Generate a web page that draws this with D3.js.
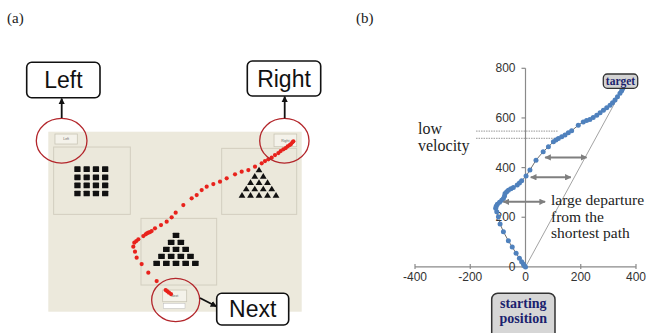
<!DOCTYPE html>
<html><head><meta charset="utf-8">
<script src="https://cdn.jsdelivr.net/npm/d3@7/dist/d3.min.js"></script>
<style>body{margin:0;background:#fff;}svg{display:block;}</style>
</head><body>
<svg id="c" width="649" height="333"></svg>
<script>
// ===== Panel (b): mouse trajectory (data units) =====
const trajX = [0,-4,-8,-14,-22,-34,-48,-62,-80,-92,-98,-104,-108,-106,-102,-94,-86,-80,-76,-74,-68,-62,-53,-44,-30,-22,-14,2,16,38,64,83,101,110,119,131,143,155,167,191,209,221,233,245,258,270,282,294,306,315,324,333,342,348,352];
const trajY = [0,5,12,21,35,55,80,105,142,173,202,222,236,244,252,260,268,276,286,296,303,309,315,320,330,338,347,366,390,430,464,484,504,511,517,524,531,540,548,571,584,590,594,602,611,621,631,641,651,661,672,685,699,710,719];
const xTicks = [-400,-200,0,200,400];
const yTicks = [0,200,400,600,800];
const startPt = [0,0];
const targetPt = [352,719];
const lowVelY = [547,518];
const lowVelX = [-179,119];
const arrowY  = [441,361,262];
const arrowX0 = [71,19,-80];
const arrowX1 = [221,164,71];

// ===== Panel (a): screenshot (screen units) =====
const traceX = [368,362,357,352,325,300,280,265,260,255,258,264,270,285,292,296,300,305,310,320,338,355,370,382,405,430,445,460,475,495,515,535,560,580,600,620,640,650,660,670,680,690,697,705,712,718,724,728,732,735];
const traceY = [487,483,479,475,448,423,397,378,360,345,333,328,323,313,308,305,303,301,298,290,280,270,257,243,220,200,190,175,165,157,150,140,128,120,115,105,95,88,83,78,70,64,58,53,49,44,40,37,32,29];
const gridRows = [0,1,2,3], gridCols = [0,1,2,3];
const pyramidRows = [1,2,3,4,5];
const calloutLabels = ["Left","Right","Next"];

const svg = d3.select("#c");
const defs = svg.append("defs");
function marker(id, color){
  defs.append("marker").attr("id",id).attr("viewBox","0 0 10 10")
    .attr("refX",9).attr("refY",5).attr("markerWidth",id==="ga"?3.2:3.6).attr("markerHeight",id==="ga"?3.2:3.6)
    .attr("orient","auto-start-reverse")
    .append("path").attr("d","M0,0L10,5L0,10z").attr("fill",color);
}
marker("ga","#7f7f7f");
marker("ba","#111");

// ---------- Panel (a) ----------
svg.append("text").attr("x",7).attr("y",23).attr("font-family","Liberation Serif")
  .attr("font-size",15).attr("fill","#222").text("(a)");
const sx = d3.scaleLinear().domain([0,760]).range([48.3,301.7]);
const sy = d3.scaleLinear().domain([0,540]).range([131.7,311.7]);
const gA = svg.append("g");
gA.append("rect").attr("x",sx(0)).attr("y",sy(0)).attr("width",sx(760)-sx(0)).attr("height",sy(540)-sy(0))
  .attr("fill","#ece9dc");
// inner panels
const panels = [[16,46,246,248],[520,50,745,248],[278,260,505,460]];
panels.forEach(p=>{
  gA.append("rect").attr("x",sx(p[0])).attr("y",sy(p[1])).attr("width",sx(p[2])-sx(p[0])).attr("height",sy(p[3])-sy(p[1]))
    .attr("fill","#ebe8db").attr("stroke","#d2cebf").attr("stroke-width",1);
});
// buttons
const buttons = [[20,7,87,37,"Left"],[677,7,745,45,"Right"],[343,475,415,510,"Next"]];
buttons.forEach(b=>{
  gA.append("rect").attr("x",sx(b[0])).attr("y",sy(b[1])).attr("width",sx(b[2])-sx(b[0])).attr("height",sy(b[3])-sy(b[1]))
    .attr("fill","#f4f2ea").attr("stroke","#c9c5b6").attr("stroke-width",0.8);
  gA.append("text").attr("x",(sx(b[0])+sx(b[2]))/2).attr("y",(sy(b[1])+sy(b[3]))/2+1.2)
    .attr("text-anchor","middle").attr("font-family","Liberation Sans").attr("font-size",3.5).attr("fill","#666").text(b[4]);
});
gA.append("rect").attr("x",sx(345)).attr("y",sy(515)).attr("width",sx(410)-sx(345)).attr("height",sy(530)-sy(515))
  .attr("fill","#fff").attr("stroke","#bbb").attr("stroke-width",0.5);
// grid of squares
const gx = d3.scaleBand().domain(gridCols).range([sx(78),sx(180)]).paddingInner(0.32);
const gy = d3.scaleBand().domain(gridRows).range([sy(104),sy(194)]).paddingInner(0.3);
gridRows.forEach(r=>gridCols.forEach(c=>{
  gA.append("rect").attr("x",gx(c)).attr("y",gy(r)).attr("width",gx.bandwidth()).attr("height",gy.bandwidth())
    .attr("fill","#111").attr("rx",0.6);
}));
// pyramid of squares
const pyRow = d3.scaleLinear().domain([1,5]).range([sy(303),sy(387)]);
pyramidRows.forEach(n=>{
  for(let i=0;i<n;i++){
    const cx = sx(383 + (i-(n-1)/2)*29);
    gA.append("rect").attr("x",cx-3.3).attr("y",pyRow(n)).attr("width",6.6).attr("height",5.4).attr("fill","#111").attr("rx",0.5);
  }
});
// pyramid of triangles
const trRow = d3.scaleLinear().domain([1,5]).range([sy(114),sy(190)]);
pyramidRows.forEach(n=>{
  for(let i=0;i<n;i++){
    const cx = sx(632 + (i-(n-1)/2)*25.5);
    const cy = trRow(n);
    gA.append("path").attr("d",`M${cx},${cy-3}L${cx+3.4},${cy+2.6}L${cx-3.4},${cy+2.6}Z`).attr("fill","#111");
  }
});
// red trace
gA.selectAll("circle.tr").data(traceX.map((x,i)=>[x,traceY[i]])).enter().append("circle")
  .attr("cx",d=>sx(d[0])).attr("cy",d=>sy(d[1])).attr("r",2.1).attr("fill","#e8221c");
// red circles
const rings = [[40,27,76,67],[708,27,74,67],[382,505,72,65]];
rings.forEach(r=>{
  gA.append("ellipse").attr("cx",sx(r[0])).attr("cy",sy(r[1])).attr("rx",r[2]/3).attr("ry",r[3]/3)
    .attr("fill","none").attr("stroke","#b3262b").attr("stroke-width",1.3);
});
// callouts
const callBoxes = [[26.7,62.3,73.3,35.4],[247.3,61,73.4,35],[216.7,293.3,72,31.7]];
callBoxes.forEach((b,i)=>{
  gA.append("rect").attr("x",b[0]).attr("y",b[1]).attr("width",b[2]).attr("height",b[3]).attr("rx",5)
    .attr("fill","#fff").attr("stroke","#111").attr("stroke-width",1.6);
  gA.append("text").attr("x",b[0]+b[2]/2).attr("y",b[1]+b[3]/2+8).attr("text-anchor","middle")
    .attr("font-family","Liberation Sans").attr("font-size",23).attr("fill","#111").text(calloutLabels[i]);
});
const callArrows = [[61.7,118,61.7,98.5],[284.7,118.3,284.7,96.5],[200,298,216.5,306.5]];
callArrows.forEach(a=>{
  gA.append("line").attr("x1",a[0]).attr("y1",a[1]).attr("x2",a[2]).attr("y2",a[3])
    .attr("stroke","#111").attr("stroke-width",1.8).attr("marker-end","url(#ba)");
});

// ---------- Panel (b) ----------
svg.append("text").attr("x",356).attr("y",23).attr("font-family","Liberation Serif")
  .attr("font-size",15).attr("fill","#222").text("(b)");
const x = d3.scaleLinear().domain([-400,400]).range([415,636]);
const y = d3.scaleLinear().domain([0,800]).range([266.9,68.3]);
const gB = svg.append("g");
const axisCol = "#8a8a8a";
gB.append("line").attr("x1",x(-400)).attr("x2",x(400)).attr("y1",y(0)).attr("y2",y(0)).attr("stroke",axisCol).attr("stroke-width",1.2);
gB.append("line").attr("x1",x(0)).attr("x2",x(0)).attr("y1",y(0)).attr("y2",y(800)).attr("stroke",axisCol).attr("stroke-width",1.2);
xTicks.forEach(t=>{
  gB.append("line").attr("x1",x(t)).attr("x2",x(t)).attr("y1",y(0)-3).attr("y2",y(0)+2).attr("stroke",axisCol).attr("stroke-width",1.2);
  gB.append("text").attr("x",x(t)).attr("y",y(0)+14).attr("text-anchor","middle")
    .attr("font-family","Liberation Sans").attr("font-size",12).attr("fill","#333").text(t);
});
yTicks.forEach(t=>{
  gB.append("line").attr("x1",x(0)-4).attr("x2",x(0)).attr("y1",y(t)).attr("y2",y(t)).attr("stroke",axisCol).attr("stroke-width",1.2);
  gB.append("text").attr("x",x(0)-10).attr("y",y(t)+4).attr("text-anchor","end")
    .attr("font-family","Liberation Sans").attr("font-size",12).attr("fill","#333").text(t);
});
// shortest path
gB.append("line").attr("x1",x(startPt[0])).attr("y1",y(startPt[1])).attr("x2",x(targetPt[0])).attr("y2",y(targetPt[1]))
  .attr("stroke","#8c8c8c").attr("stroke-width",0.8);
// low velocity lines
lowVelY.forEach(v=>{
  gB.append("line").attr("x1",x(lowVelX[0])).attr("x2",x(lowVelX[1])).attr("y1",y(v)).attr("y2",y(v))
    .attr("stroke","#8a8a8a").attr("stroke-width",0.9).attr("stroke-dasharray","1.5,1");
});
// trajectory
const pts = trajX.map((v,i)=>[v,trajY[i]]);
gB.append("path").attr("d",d3.line().x(d=>x(d[0])).y(d=>y(d[1]))(pts))
  .attr("fill","none").attr("stroke","#4a4a4a").attr("stroke-width",0.8);
gB.selectAll("circle.tj").data(pts).enter().append("circle")
  .attr("cx",d=>x(d[0])).attr("cy",d=>y(d[1])).attr("r",2.5).attr("fill","#4f81bd");
// departure arrows
arrowY.forEach((v,i)=>{
  gB.append("line").attr("x1",x(arrowX0[i])).attr("x2",x(arrowX1[i])).attr("y1",y(v)).attr("y2",y(v))
    .attr("stroke","#7f7f7f").attr("stroke-width",2)
    .attr("marker-start","url(#ga)").attr("marker-end","url(#ga)");
});
// annotations
const serif = "Liberation Serif";
gB.append("text").attr("x",418).attr("y",134).attr("font-family",serif).attr("font-size",16).attr("fill","#222").text("low");
gB.append("text").attr("x",418).attr("y",151).attr("font-family",serif).attr("font-size",16).attr("fill","#222").text("velocity");
["large departure","from the","shortest path"].forEach((s,i)=>{
  gB.append("text").attr("x",551).attr("y",205+i*16.7).attr("font-family",serif).attr("font-size",15.5).attr("fill","#222").text(s);
});
// target box
gB.append("rect").attr("x",603.3).attr("y",74).attr("width",34.4).attr("height",14.3).attr("rx",4)
  .attr("fill","#d3d3d3").attr("stroke","#333").attr("stroke-width",1.3);
gB.append("text").attr("x",620.5).attr("y",85).attr("text-anchor","middle").attr("font-family",serif)
  .attr("font-weight","bold").attr("font-size",11.5).attr("fill","#1b1f6e").text("target");
// starting position box
gB.append("rect").attr("x",491.7).attr("y",293.3).attr("width",63.3).attr("height",48).attr("rx",6)
  .attr("fill","#d6d6d6").attr("stroke","#333").attr("stroke-width",1.5);
gB.append("text").attr("x",523.3).attr("y",308).attr("text-anchor","middle").attr("font-family",serif)
  .attr("font-weight","bold").attr("font-size",14).attr("fill","#1b1f6e").text("starting");
gB.append("text").attr("x",523.3).attr("y",323).attr("text-anchor","middle").attr("font-family",serif)
  .attr("font-weight","bold").attr("font-size",14).attr("fill","#1b1f6e").text("position");
</script>
</body></html>
